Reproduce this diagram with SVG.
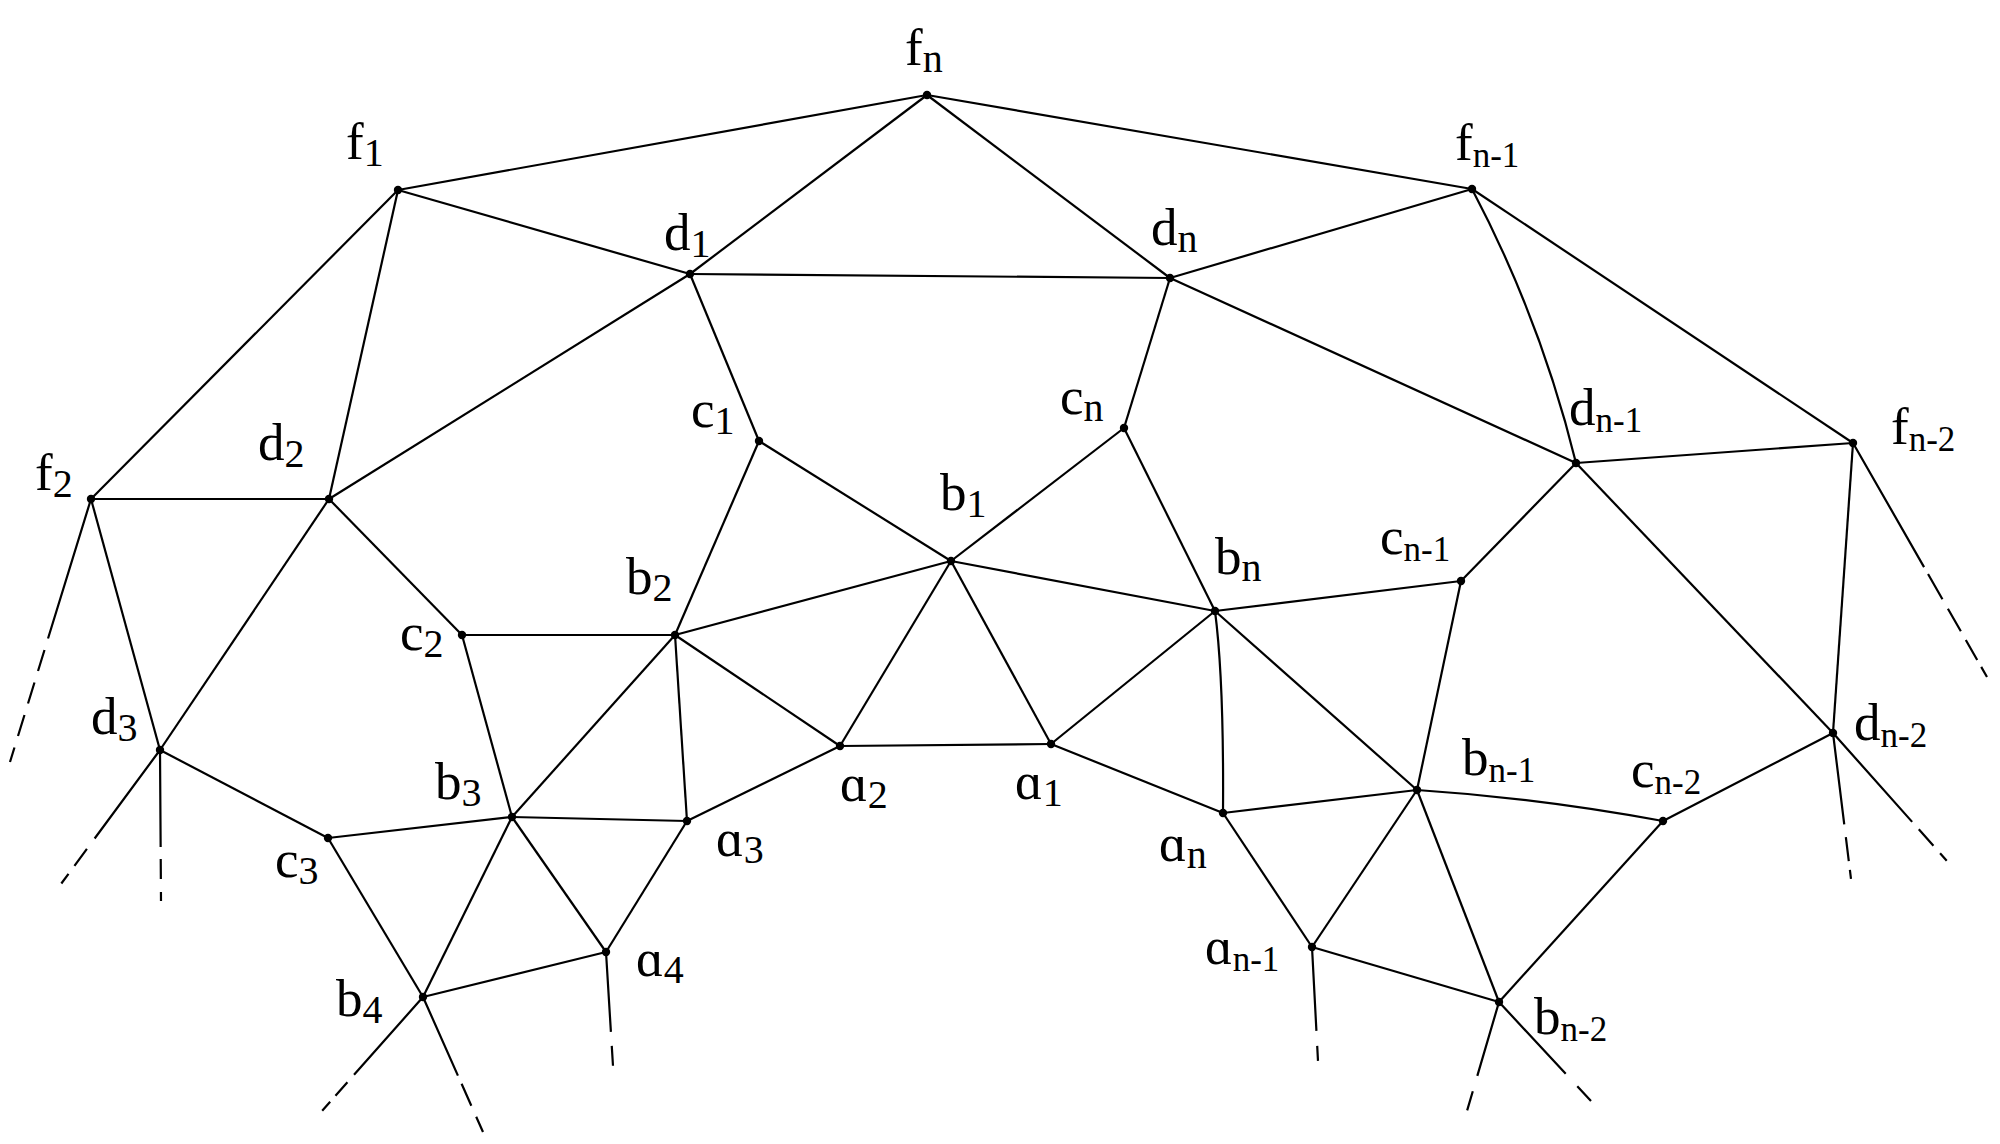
<svg xmlns="http://www.w3.org/2000/svg" width="2000" height="1144" viewBox="0 0 2000 1144">
<style>
  .e { stroke:#000; stroke-width:2.2; fill:none; stroke-linecap:butt; }
  .dot { fill:#000; }
  .lbl { font-family:"Liberation Serif","Times New Roman","DejaVu Serif",serif; font-size:53px; fill:#000; }
  .s1 { font-size:40px; }
  .s2 { font-size:35px; }
</style>
<rect width="2000" height="1144" fill="#fff"/>
<g id="connectors">
  <line class="e" x1="927" y1="95" x2="398" y2="190"/>
  <line class="e" x1="927" y1="95" x2="1472" y2="189"/>
  <line class="e" x1="927" y1="95" x2="690" y2="274"/>
  <line class="e" x1="927" y1="95" x2="1170" y2="278"/>
  <line class="e" x1="398" y1="190" x2="690" y2="274"/>
  <line class="e" x1="398" y1="190" x2="91" y2="499"/>
  <line class="e" x1="398" y1="190" x2="329" y2="499"/>
  <line class="e" x1="690" y1="274" x2="1170" y2="278"/>
  <line class="e" x1="690" y1="274" x2="329" y2="499"/>
  <line class="e" x1="690" y1="274" x2="759" y2="441"/>
  <line class="e" x1="1170" y1="278" x2="1472" y2="189"/>
  <line class="e" x1="1170" y1="278" x2="1124" y2="428"/>
  <line class="e" x1="1170" y1="278" x2="1576" y2="463"/>
  <path class="e" d="M1472,189 Q1541,320 1576,463"/>
  <line class="e" x1="1472" y1="189" x2="1853" y2="443"/>
  <line class="e" x1="91" y1="499" x2="329" y2="499"/>
  <line class="e" x1="91" y1="499" x2="160" y2="750"/>
  <line class="e" x1="329" y1="499" x2="462" y2="635"/>
  <line class="e" x1="329" y1="499" x2="160" y2="750"/>
  <line class="e" x1="759" y1="441" x2="951" y2="561"/>
  <line class="e" x1="759" y1="441" x2="675" y2="635"/>
  <line class="e" x1="1124" y1="428" x2="951" y2="561"/>
  <line class="e" x1="1124" y1="428" x2="1215" y2="611"/>
  <line class="e" x1="1576" y1="463" x2="1853" y2="443"/>
  <line class="e" x1="1576" y1="463" x2="1461" y2="581"/>
  <line class="e" x1="1576" y1="463" x2="1833" y2="733"/>
  <line class="e" x1="1853" y1="443" x2="1833" y2="733"/>
  <line class="e" x1="951" y1="561" x2="675" y2="635"/>
  <line class="e" x1="951" y1="561" x2="840" y2="746"/>
  <line class="e" x1="951" y1="561" x2="1051" y2="744"/>
  <line class="e" x1="951" y1="561" x2="1215" y2="611"/>
  <line class="e" x1="1215" y1="611" x2="1461" y2="581"/>
  <line class="e" x1="1215" y1="611" x2="1051" y2="744"/>
  <path class="e" d="M1215,611 Q1224,680 1223,813"/>
  <line class="e" x1="1215" y1="611" x2="1417" y2="790"/>
  <line class="e" x1="1461" y1="581" x2="1417" y2="790"/>
  <line class="e" x1="675" y1="635" x2="462" y2="635"/>
  <line class="e" x1="675" y1="635" x2="840" y2="746"/>
  <line class="e" x1="675" y1="635" x2="687" y2="821"/>
  <line class="e" x1="675" y1="635" x2="512" y2="817"/>
  <line class="e" x1="462" y1="635" x2="512" y2="817"/>
  <line class="e" x1="160" y1="750" x2="328" y2="838"/>
  <line class="e" x1="840" y1="746" x2="1051" y2="744"/>
  <line class="e" x1="840" y1="746" x2="687" y2="821"/>
  <line class="e" x1="1051" y1="744" x2="1223" y2="813"/>
  <line class="e" x1="512" y1="817" x2="328" y2="838"/>
  <line class="e" x1="512" y1="817" x2="687" y2="821"/>
  <line class="e" x1="512" y1="817" x2="606" y2="952"/>
  <line class="e" x1="512" y1="817" x2="423" y2="997"/>
  <line class="e" x1="687" y1="821" x2="606" y2="952"/>
  <line class="e" x1="328" y1="838" x2="423" y2="997"/>
  <line class="e" x1="606" y1="952" x2="423" y2="997"/>
  <line class="e" x1="1223" y1="813" x2="1417" y2="790"/>
  <line class="e" x1="1223" y1="813" x2="1312" y2="947"/>
  <path class="e" d="M1417,790 Q1539,798 1663,821"/>
  <line class="e" x1="1417" y1="790" x2="1312" y2="947"/>
  <line class="e" x1="1417" y1="790" x2="1499" y2="1002"/>
  <line class="e" x1="1663" y1="821" x2="1833" y2="733"/>
  <line class="e" x1="1663" y1="821" x2="1499" y2="1002"/>
  <line class="e" x1="1312" y1="947" x2="1499" y2="1002"/>
  <line class="e" x1="91" y1="499" x2="10" y2="762" stroke-dasharray="146 12 22 12 22 12 22 12 20"/>
  <line class="e" x1="160" y1="750" x2="61" y2="884" stroke-dasharray="110 13 21 10 12"/>
  <line class="e" x1="160" y1="750" x2="161" y2="901" stroke-dasharray="97 12 20 13 9"/>
  <line class="e" x1="606" y1="952" x2="613" y2="1066" stroke-dasharray="80 14 20"/>
  <line class="e" x1="423" y1="997" x2="322" y2="1111" stroke-dasharray="104 10 18 8 12"/>
  <line class="e" x1="423" y1="997" x2="483" y2="1132" stroke-dasharray="86 9 24 12 17"/>
  <line class="e" x1="1312" y1="947" x2="1318" y2="1061" stroke-dasharray="84 15 15"/>
  <line class="e" x1="1499" y1="1002" x2="1467" y2="1111" stroke-dasharray="77 16 20"/>
  <line class="e" x1="1499" y1="1002" x2="1591" y2="1101" stroke-dasharray="98 17 21"/>
  <line class="e" x1="1833" y1="733" x2="1851" y2="879" stroke-dasharray="92 13 24 9 9"/>
  <line class="e" x1="1833" y1="733" x2="1947" y2="861" stroke-dasharray="119 10 22 10 10"/>
  <line class="e" x1="1853" y1="443" x2="1987" y2="677" stroke-dasharray="143 8 29 11 26 10 23 8 12"/>
</g>
<g id="node-fn"><circle class="dot" cx="927" cy="95" r="4.2"/><text class="lbl" x="905" y="65">f<tspan class="s1" dy="7">n</tspan></text></g>
<g id="node-f1"><circle class="dot" cx="398" cy="190" r="4.2"/><text class="lbl" x="346" y="159">f<tspan class="s1" dy="7">1</tspan></text></g>
<g id="node-fn-1"><circle class="dot" cx="1472" cy="189" r="4.2"/><text class="lbl" x="1455" y="160">f<tspan class="s2" dy="7">n-1</tspan></text></g>
<g id="node-d1"><circle class="dot" cx="690" cy="274" r="4.2"/><text class="lbl" x="664" y="250">d<tspan class="s1" dy="7">1</tspan></text></g>
<g id="node-dn"><circle class="dot" cx="1170" cy="278" r="4.2"/><text class="lbl" x="1151" y="245">d<tspan class="s1" dy="7">n</tspan></text></g>
<g id="node-f2"><circle class="dot" cx="91" cy="499" r="4.2"/><text class="lbl" x="35" y="490">f<tspan class="s1" dy="7">2</tspan></text></g>
<g id="node-d2"><circle class="dot" cx="329" cy="499" r="4.2"/><text class="lbl" x="258" y="460">d<tspan class="s1" dy="7">2</tspan></text></g>
<g id="node-c1"><circle class="dot" cx="759" cy="441" r="4.2"/><text class="lbl" x="691" y="427">c<tspan class="s1" dy="7">1</tspan></text></g>
<g id="node-cn"><circle class="dot" cx="1124" cy="428" r="4.2"/><text class="lbl" x="1060" y="414">c<tspan class="s1" dy="7">n</tspan></text></g>
<g id="node-dn-1"><circle class="dot" cx="1576" cy="463" r="4.2"/><text class="lbl" x="1569" y="425">d<tspan class="s2" dy="7">n-1</tspan></text></g>
<g id="node-fn-2"><circle class="dot" cx="1853" cy="443" r="4.2"/><text class="lbl" x="1891" y="444">f<tspan class="s2" dy="7">n-2</tspan></text></g>
<g id="node-b1"><circle class="dot" cx="951" cy="561" r="4.2"/><text class="lbl" x="940" y="510">b<tspan class="s1" dy="7">1</tspan></text></g>
<g id="node-bn"><circle class="dot" cx="1215" cy="611" r="4.2"/><text class="lbl" x="1215" y="574">b<tspan class="s1" dy="7">n</tspan></text></g>
<g id="node-cn-1"><circle class="dot" cx="1461" cy="581" r="4.2"/><text class="lbl" x="1380" y="554">c<tspan class="s2" dy="7">n-1</tspan></text></g>
<g id="node-b2"><circle class="dot" cx="675" cy="635" r="4.2"/><text class="lbl" x="626" y="594">b<tspan class="s1" dy="7">2</tspan></text></g>
<g id="node-c2"><circle class="dot" cx="462" cy="635" r="4.2"/><text class="lbl" x="400" y="650">c<tspan class="s1" dy="7">2</tspan></text></g>
<g id="node-d3"><circle class="dot" cx="160" cy="750" r="4.2"/><text class="lbl" x="91" y="734">d<tspan class="s1" dy="7">3</tspan></text></g>
<g id="node-a2"><circle class="dot" cx="840" cy="746" r="4.2"/><text class="lbl" x="840" y="801">ɑ<tspan class="s1" dy="7">2</tspan></text></g>
<g id="node-a1"><circle class="dot" cx="1051" cy="744" r="4.2"/><text class="lbl" x="1015" y="799">ɑ<tspan class="s1" dy="7">1</tspan></text></g>
<g id="node-b3"><circle class="dot" cx="512" cy="817" r="4.2"/><text class="lbl" x="435" y="799">b<tspan class="s1" dy="7">3</tspan></text></g>
<g id="node-a3"><circle class="dot" cx="687" cy="821" r="4.2"/><text class="lbl" x="716" y="856">ɑ<tspan class="s1" dy="7">3</tspan></text></g>
<g id="node-c3"><circle class="dot" cx="328" cy="838" r="4.2"/><text class="lbl" x="275" y="877">c<tspan class="s1" dy="7">3</tspan></text></g>
<g id="node-an"><circle class="dot" cx="1223" cy="813" r="4.2"/><text class="lbl" x="1159" y="861">ɑ<tspan class="s1" dy="7">n</tspan></text></g>
<g id="node-bn-1"><circle class="dot" cx="1417" cy="790" r="4.2"/><text class="lbl" x="1462" y="775">b<tspan class="s2" dy="7">n-1</tspan></text></g>
<g id="node-cn-2"><circle class="dot" cx="1663" cy="821" r="4.2"/><text class="lbl" x="1631" y="787">c<tspan class="s2" dy="7">n-2</tspan></text></g>
<g id="node-dn-2"><circle class="dot" cx="1833" cy="733" r="4.2"/><text class="lbl" x="1854" y="740">d<tspan class="s2" dy="7">n-2</tspan></text></g>
<g id="node-a4"><circle class="dot" cx="606" cy="952" r="4.2"/><text class="lbl" x="636" y="976">ɑ<tspan class="s1" dy="7">4</tspan></text></g>
<g id="node-an-1"><circle class="dot" cx="1312" cy="947" r="4.2"/><text class="lbl" x="1205" y="964">ɑ<tspan class="s2" dy="7">n-1</tspan></text></g>
<g id="node-b4"><circle class="dot" cx="423" cy="997" r="4.2"/><text class="lbl" x="336" y="1016">b<tspan class="s1" dy="7">4</tspan></text></g>
<g id="node-bn-2"><circle class="dot" cx="1499" cy="1002" r="4.2"/><text class="lbl" x="1534" y="1034">b<tspan class="s2" dy="7">n-2</tspan></text></g>
</svg>
